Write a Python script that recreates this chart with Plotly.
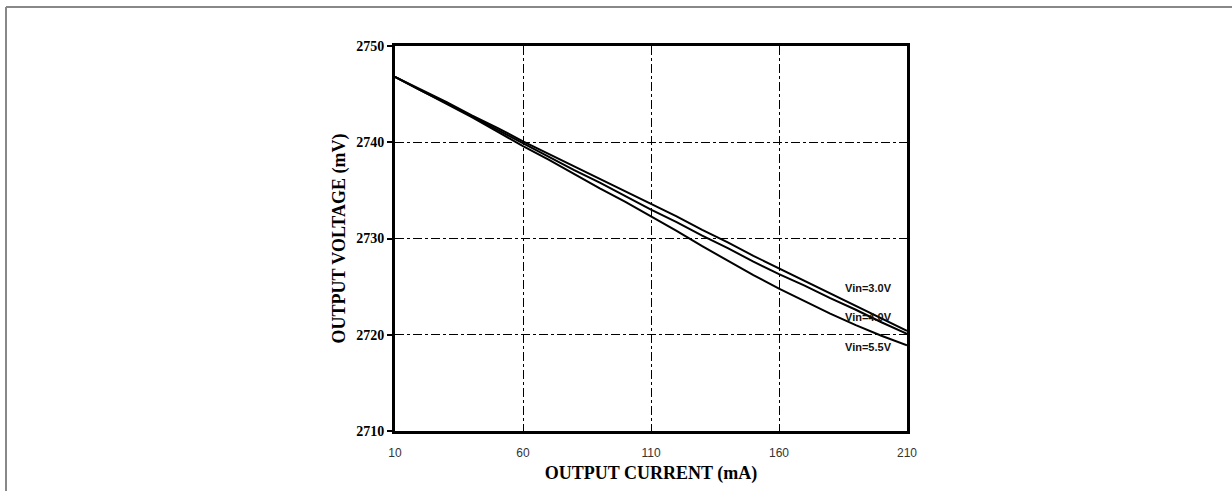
import plotly.graph_objects as go

# Load regulation data: output voltage vs. output current at three input voltages
current_ma = [10, 20, 30, 40, 50, 60, 70, 80, 90, 100, 110,
              120, 130, 140, 150, 160, 170, 180, 190, 200, 210]

vout_vin_3_0 = [2746.8, 2745.5, 2744.2, 2742.8, 2741.5, 2740.1, 2738.8, 2737.5,
                2736.2, 2734.9, 2733.6, 2732.3, 2730.9, 2729.6, 2728.2, 2726.9,
                2725.6, 2724.3, 2723.0, 2721.7, 2720.4]
vout_vin_4_0 = [2746.8, 2745.4, 2744.1, 2742.7, 2741.3, 2739.9, 2738.5, 2737.1,
                2735.8, 2734.4, 2733.0, 2731.7, 2730.3, 2729.0, 2727.6, 2726.3,
                2725.1, 2723.8, 2722.6, 2721.3, 2720.1]
vout_vin_5_5 = [2746.8, 2745.4, 2744.0, 2742.6, 2741.1, 2739.6, 2738.2, 2736.7,
                2735.2, 2733.8, 2732.3, 2730.8, 2729.2, 2727.7, 2726.2, 2724.8,
                2723.5, 2722.2, 2721.0, 2719.9, 2718.9]

series_names = ["Vin=3.0V", "Vin=4.0V", "Vin=5.5V"]
series_values = [vout_vin_3_0, vout_vin_4_0, vout_vin_5_5]
label_y = [2724.9, 2721.8, 2718.75]

x_ticks = [10, 60, 110, 160, 210]
y_ticks = [2710, 2720, 2730, 2740, 2750]

fig = go.Figure()
for name, vals in zip(series_names, series_values):
    fig.add_trace(go.Scatter(
        x=current_ma, y=vals, mode="lines", name=name,
        line=dict(color="black", width=2), showlegend=False,
    ))

# curve labels near the right end
for name, ly in zip(series_names, label_y):
    fig.add_annotation(
        x=194.8, y=ly, text=f"<b>{name}</b>", showarrow=False,
        font=dict(family="Liberation Sans, Arial", size=11, color="#111"),
        xanchor="center", yanchor="middle",
    )

serif = "Liberation Serif, Times New Roman, serif"

fig.update_xaxes(
    range=[10, 210], tickvals=x_ticks, ticktext=[str(t) for t in x_ticks],
    showline=True, linecolor="black", linewidth=3, mirror=True,
    showgrid=True, gridcolor="black", gridwidth=1, griddash="dashdot",
    zeroline=False, ticks="", ticklabelstandoff=9,
    tickfont=dict(family="Liberation Sans, Arial", size=12, color="#333"),
    title=dict(text="<b>OUTPUT CURRENT (mA)</b>",
               font=dict(family=serif, size=18, color="black"), standoff=7),
)
fig.update_yaxes(
    range=[2710, 2750], tickvals=y_ticks,
    ticktext=[f"<b>{t}</b>" for t in y_ticks],
    showline=True, linecolor="black", linewidth=3, mirror=True,
    showgrid=True, gridcolor="black", gridwidth=1, griddash="dashdot",
    zeroline=False, ticks="outside", ticklen=5, tickwidth=2, tickcolor="black",
    tickfont=dict(family=serif, size=14, color="black"),
    title=dict(text="<b>OUTPUT VOLTAGE (mV)</b>",
               font=dict(family=serif, size=18, color="black"), standoff=6),
)

# page frame: left and top borders
frame_x = (6 - 395) / 512
frame_y = (491 - 7 - 60) / 385
fig.add_shape(type="line", xref="paper", yref="paper",
              x0=frame_x, x1=frame_x, y0=-2, y1=frame_y,
              line=dict(color="#888", width=2), layer="above")
fig.add_shape(type="line", xref="paper", yref="paper",
              x0=frame_x, x1=3, y0=frame_y, y1=frame_y,
              line=dict(color="#888", width=2), layer="above")

fig.update_layout(
    width=1232, height=491,
    margin=dict(l=395, r=325, t=46, b=60),
    paper_bgcolor="white", plot_bgcolor="white",
)

fig.write_html("out.html")
